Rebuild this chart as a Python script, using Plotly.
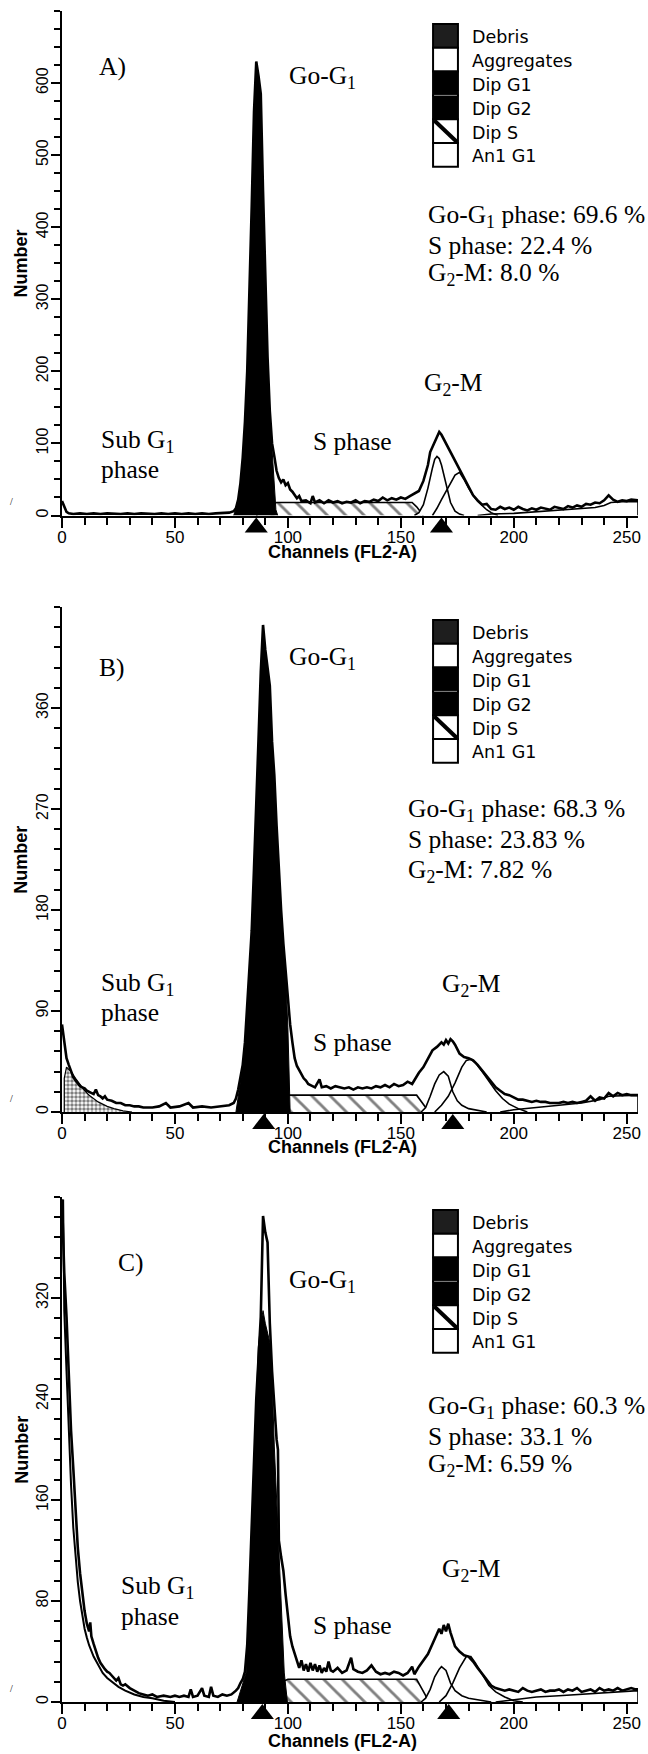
import plotly.graph_objects as go

# ---------------- data (channel, count) ----------------
X_TICKS = [0, 50, 100, 150, 200, 250]

A_yticks = [0, 100, 200, 300, 400, 500, 600]
B_yticks = [0, 90, 180, 270, 360]
C_yticks = [0, 80, 160, 240, 320]

A_total = [(0,20),(1,12),(2,5),(3,3),(5,2),(8,3),(11,2),(14,3),(17,2),(20,3),(23,2),(26,2),(29,3),(32,2),(35,3),(38,2),(41,2),(44,3),(47,2),(50,3),(53,2),(56,3),(59,2),(62,3),(65,2),(68,3),(71,3),(74,4),(76,6),(77,10),(78,22),(79,45),(80,80),(81,130),(82,200),(83,300),(84,430),(85,560),(86,630),(87,610),(88,585),(89,450),(90,320),(91,220),(92,145),(93,100),(94,82),(95,62),(96,52),(97,46),(98,50),(99,42),(100,45),(101,36),(102,33),(103,28),(104,24),(105,27),(106,20),(108,21),(110,17),(111,27),(112,18),(114,21),(116,17),(118,21),(120,18),(122,20),(124,17),(126,19),(128,18),(130,21),(132,17),(134,20),(136,19),(138,22),(140,20),(142,25),(144,21),(146,24),(148,22),(150,25),(152,23),(154,27),(156,30),(158,34),(160,48),(162,70),(163,88),(165,102),(167,116),(168,112),(170,100),(172,86),(174,74),(176,62),(178,50),(180,38),(182,28),(184,21),(186,15),(188,16),(190,9),(192,8),(194,12),(196,9),(198,11),(200,8),(202,12),(204,9),(206,7),(208,10),(210,8),(212,11),(214,9),(216,8),(218,12),(220,10),(222,9),(224,13),(226,11),(228,14),(230,12),(232,16),(234,15),(236,18),(238,17),(240,21),(242,28),(244,22),(246,19),(248,21),(250,20),(252,22),(254,21),(255,21)]
A_g1 = [(76,0),(78,18),(79,42),(80,78),(81,128),(82,198),(83,298),(84,428),(85,558),(86,628),(87,605),(88,580),(89,445),(90,318),(91,215),(92,140),(93,95),(94,45),(94.7,8),(95.5,0)]
A_s = [(86,0),(89,8),(92,15),(95,18),(155,18),(157,12),(159,4),(160,0)]
A_g2 = [(156,0),(158,4),(160,15),(162,38),(164,66),(165,78),(166,82),(167,79),(168,70),(170,42),(172,18),(174,6),(176,2),(178,0)]
A_an1 = [(164,0),(166,10),(168,22),(170,34),(172,46),(174,56),(176,60),(178,50),(180,38),(182,28),(184,20),(186,14),(188,8),(190,4),(193,0)]
A_agg = [(184,0),(190,2),(200,3),(210,5),(220,7),(230,9),(236,11),(240,14),(243,18),(248,19),(255,19),(255,0)]
A_peaks = [86, 168]

B_total = [(0,78),(1,62),(2,48),(3,42),(4,36),(5,31),(6,28),(7,25),(8,23),(9,22),(10,21),(11,19),(12,18),(13,17),(14,16),(15,20),(16,15),(17,14),(18,12),(19,14),(20,11),(22,10),(24,8),(26,8),(28,6),(30,6),(32,5),(34,5),(36,4),(40,4),(43,5),(46,8),(48,4),(52,5),(56,8),(58,4),(62,5),(66,4),(70,5),(74,6),(76,8),(77,12),(78,20),(79,30),(80,42),(81,62),(82,97),(83,128),(84,162),(85,217),(86,267),(87,332),(88,392),(89,434),(90,412),(91,398),(92,380),(93,330),(94,300),(95,255),(96,215),(97,180),(98,150),(99,125),(100,100),(101,78),(102,62),(103,48),(104,41),(105,37),(106,34),(107,30),(108,28),(109,25),(110,24),(112,22),(114,29),(115,22),(117,23),(119,21),(121,23),(123,22),(125,21),(127,22),(129,20),(131,22),(133,21),(135,22),(137,21),(139,23),(141,22),(143,24),(145,22),(147,25),(149,23),(151,24),(153,27),(155,25),(157,32),(158,35),(160,40),(162,48),(164,55),(166,58),(168,62),(169,60),(170,64),(171,61),(172,65),(173,63),(174,60),(176,52),(178,49),(180,48),(182,46),(184,42),(186,37),(188,31),(190,26),(192,22),(194,19),(196,16),(198,15),(200,13),(202,11),(204,11),(206,10),(208,9),(210,10),(212,9),(214,9),(216,8),(218,8),(220,8),(222,9),(224,8),(226,9),(228,8),(230,9),(232,10),(234,14),(236,10),(238,13),(240,12),(242,17),(244,14),(246,17),(248,15),(250,16),(252,15),(254,15),(255,15)]
B_g1 = [(77,0),(78,15),(79,28),(80,40),(81,60),(82,95),(83,125),(84,160),(85,215),(86,265),(87,330),(88,390),(89,430),(90,410),(91,396),(92,378),(93,328),(94,298),(95,252),(96,212),(97,178),(98,148),(99,122),(100,75),(100.6,25),(101,0)]
B_s = [(88,0),(92,8),(96,14),(100,15),(157,15),(159,10),(161,4),(162,0)]
B_g2 = [(159,0),(161,4),(163,14),(165,25),(167,33),(169,36),(171,32),(173,18),(175,10),(177,6),(180,3),(184,1.5),(188,0)]
B_an1 = [(165,0),(168,6),(171,14),(174,26),(177,40),(179,46),(181,47),(183,44),(186,36),(189,27),(192,19),(195,12),(198,7),(202,3),(206,0)]
B_agg = [(194,0),(200,2),(210,4),(220,6),(230,8),(238,11),(242,14),(255,15),(255,0)]
B_deb = [(1,0),(1,30),(2,40),(4,36),(6,30),(8,24),(10,19),(12,15),(14,12),(16,9),(18,7),(20,5),(23,3),(27,1),(31,0)]
B_peaks = [89.3, 173]

C_total = [(0,398),(1,340),(2,305),(3,255),(4,215),(5,185),(6,150),(7,122),(8,102),(9,86),(10,72),(11,62),(12,56),(12.5,63),(13,52),(14,46),(15,40),(16,35),(17,31),(18,28),(19,26),(20,24),(21,23),(22,21),(23,19),(24,17),(25,19),(26,14),(27,13),(28,14),(30,11),(32,9),(34,7),(36,6),(38,5),(40,6),(42,4),(45,5),(48,4),(50,5),(52,4),(54,5),(56,4),(57,10),(58,4),(60,5),(62,11),(63,5),(65,4),(66,12),(67,5),(69,4),(71,6),(73,5),(75,6),(77,9),(78,11),(79,15),(80,18),(81,24),(82,45),(83,90),(84,140),(85,192),(86,240),(87,272),(88,305),(89,385),(90,372),(91,364),(92,300),(93,262),(94,232),(95,208),(95.6,200),(96,128),(97,115),(98,104),(99,85),(100,66),(101,52),(102,44),(103,38),(104,32),(105,27),(106,33),(107,25),(108,30),(109,24),(110,31),(111,25),(112,30),(113,24),(114,29),(115,23),(116,27),(117,24),(118,32),(119,25),(120,24),(122,27),(124,23),(126,25),(128,35),(129,26),(131,24),(133,23),(135,25),(137,29),(139,24),(141,22),(143,23),(145,22),(147,24),(149,23),(151,21),(153,23),(155,28),(156,22),(158,28),(160,33),(162,38),(164,46),(165,50),(166,55),(167,58),(168,54),(169,61),(170,56),(171,62),(172,55),(173,50),(174,44),(176,40),(178,37),(180,36),(182,32),(184,27),(186,22),(188,17),(190,13),(192,11),(194,10),(196,9),(198,10),(200,9),(202,8),(204,11),(206,9),(208,8),(210,9),(212,10),(214,8),(216,9),(218,9),(220,10),(222,8),(224,10),(226,9),(228,11),(230,8),(232,9),(234,10),(236,8),(238,11),(240,9),(242,10),(244,9),(246,11),(248,9),(250,10),(252,11),(254,10),(255,10)]
C_g1 = [(77.5,0),(79,8),(80,15),(81.5,23),(82.5,60),(83.7,123),(84.5,165),(85.2,202),(86.9,281),(88,300),(89,310),(90,300),(91,292),(92.5,281),(94,202),(95,160),(95.8,123),(97,70),(98.4,23),(99.8,0)]
C_s = [(88,0),(92,8),(96,15),(100,18),(157,18),(159,12),(161,5),(162,0)]
C_g2 = [(159,0),(161,3),(163,10),(165,20),(167,26),(168,28),(170,25),(172,15),(174,9),(177,5),(180,3),(185,1.5),(190,0)]
C_an1 = [(167,0),(170,5),(173,15),(176,27),(179,36),(181,36),(183,31),(186,22),(189,13),(192,8),(196,4),(200,1),(204,0)]
C_agg = [(192,0),(200,2),(210,4),(220,5),(230,6),(240,7),(245,8),(255,9),(255,0)]
C_deb = [(0.5,398),(1,310),(2,262),(3,212),(4,172),(5,138),(6,113),(7,95),(8,80),(9,68),(10,58),(11,51),(12,45),(14,36),(16,29),(18,23),(20,19),(22,16),(25,12),(28,9),(32,6),(36,4),(40,3),(45,1),(50,0)]
C_peaks = [88.7, 171.2]

LEGEND_LABELS = ["Debris", "Aggregates", "Dip G1", "Dip G2", "Dip S", "An1 G1"]
A_stats = ["Go-G<sub>1</sub> phase: 69.6 %", "S phase: 22.4 %", "G<sub>2</sub>-M: 8.0 %"]
B_stats = ["Go-G<sub>1</sub> phase: 68.3 %", "S phase: 23.83 %", "G<sub>2</sub>-M: 7.82 %"]
C_stats = ["Go-G<sub>1</sub> phase: 60.3 %", "S phase: 33.1 %", "G<sub>2</sub>-M: 6.59 %"]

# ---------------- layout geometry (page pixels) ----------------
W, H = 648, 1754
ML, MR, MT, MB = 62, 7, 11, 24
PW, PH = W - ML - MR, H - MT - MB
BAND = 24  # pixel band under each x axis holding the peak markers


def px_x(x):
    return (x - ML) / PW


def px_y(y):
    return (H - MB - y) / PH


panels = [
    dict(tag="A)", top=11, zero=515.5, ymax=700, yticks=A_yticks, ydt=25, title_dy=36,
         total=A_total, g1=A_g1, s=A_s, g2=A_g2, an1=A_an1, agg=A_agg, deb=None, debline=None,
         peaks=A_peaks, stats=A_stats, statx=428, staty=[216, 245, 274],
         tagpos=(113, 66), gopos=(324, 77), g2mpos=(456, 384), subx=99, suby=(441, 469), sphase=(312, 441)),
    dict(tag="B)", top=607, zero=1112, ymax=450, yticks=B_yticks, ydt=18, title_dy=35,
         total=B_total, g1=B_g1, s=B_s, g2=B_g2, an1=B_an1, agg=B_agg, deb=B_deb, debline=None,
         peaks=B_peaks, stats=B_stats, statx=408, staty=[810, 840, 871],
         tagpos=(112, 667), gopos=(324, 658), g2mpos=(474, 985), subx=99, suby=(984, 1012), sphase=(312, 1042)),
    dict(tag="C)", top=1197, zero=1702, ymax=400, yticks=C_yticks, ydt=16, title_dy=39,
         total=C_total, g1=C_g1, s=C_s, g2=C_g2, an1=C_an1, agg=C_agg, deb=None, debline=C_deb,
         peaks=C_peaks, stats=C_stats, statx=428, staty=[1407, 1436, 1465],
         tagpos=(131, 1262), gopos=(324, 1281), g2mpos=(474, 1570), subx=119, suby=(1587, 1616), sphase=(312, 1625)),
]


def xs(pairs):
    return [p[0] for p in pairs]


def ys(pairs):
    return [p[1] for p in pairs]


fig = go.Figure()
annotations = []
shapes = []
SERIF = "Liberation Serif"
SANS = "Liberation Sans"
THIN = 1.6


def ann(text, x, y, size=25.5, family=SERIF, xanchor="center", yanchor="middle", angle=0, bold=False):
    annotations.append(dict(
        text=text, x=px_x(x), y=px_y(y), xref="paper", yref="paper", showarrow=False,
        xanchor=xanchor, yanchor=yanchor, textangle=angle,
        font=dict(family=family, size=size, color="black", weight="bold" if bold else "normal")))


layout_axes = {}
for i, p in enumerate(panels):
    n = "" if i == 0 else str(i + 1)
    xa, ya = "x" + n, "y" + n
    yb = "y" + str(i + 4)  # marker band axis
    # Aggregates (white, outlined)
    fig.add_trace(go.Scatter(x=xs(p["agg"]), y=ys(p["agg"]), xaxis=xa, yaxis=ya, mode="lines",
                             fill="tozeroy", fillcolor="white", line=dict(color="black", width=THIN)))
    # Debris (stippled)
    if p["deb"] is not None:
        fig.add_trace(go.Scatter(x=xs(p["deb"]), y=ys(p["deb"]), xaxis=xa, yaxis=ya, mode="lines",
                                 fill="tozeroy", line=dict(color="black", width=1.2),
                                 fillpattern=dict(shape=".", size=4, solidity=0.6, fgcolor="black", bgcolor="white")))
    # Dip S (hatched)
    fig.add_trace(go.Scatter(x=xs(p["s"]), y=ys(p["s"]), xaxis=xa, yaxis=ya, mode="lines",
                             fill="tozeroy", line=dict(color="black", width=THIN),
                             fillpattern=dict(shape="\\", size=13, solidity=0.22, fgcolor="black", bgcolor="white")))
    # Dip G2 (white, outlined)
    fig.add_trace(go.Scatter(x=xs(p["g2"]), y=ys(p["g2"]), xaxis=xa, yaxis=ya, mode="lines",
                             fill="tozeroy", fillcolor="white", line=dict(color="black", width=THIN)))
    # An1 G1
    fig.add_trace(go.Scatter(x=xs(p["an1"]), y=ys(p["an1"]), xaxis=xa, yaxis=ya, mode="lines",
                             line=dict(color="black", width=THIN)))
    # Dip G1 (black)
    fig.add_trace(go.Scatter(x=xs(p["g1"]), y=ys(p["g1"]), xaxis=xa, yaxis=ya, mode="lines",
                             fill="tozeroy", fillcolor="black", line=dict(color="black", width=1)))
    if p["debline"] is not None:
        fig.add_trace(go.Scatter(x=xs(p["debline"]), y=ys(p["debline"]), xaxis=xa, yaxis=ya, mode="lines",
                                 line=dict(color="black", width=2)))
    # measured histogram
    fig.add_trace(go.Scatter(x=xs(p["total"]), y=ys(p["total"]), xaxis=xa, yaxis=ya, mode="lines",
                             line=dict(color="black", width=2.6)))
    # peak markers in a band just below the axis (band units are pixels)
    fig.add_trace(go.Scatter(x=p["peaks"], y=[-12] * len(p["peaks"]), xaxis=xa, yaxis=yb, mode="markers",
                             marker=dict(symbol="triangle-up", size=20, color="black", line=dict(width=0)),
                             cliponaxis=False))

    layout_axes["xaxis" + n] = dict(
        domain=[0, 1], anchor=ya, range=[0, 255], tickmode="array", tickvals=X_TICKS,
        ticks="outside", ticklen=10, tickwidth=2, tickcolor="black", ticklabelstandoff=-5,
        showline=True, linecolor="black", linewidth=2, showgrid=False, zeroline=False,
        tickfont=dict(family=SANS, size=17, color="black"),
        minor=dict(ticks="outside", tick0=0, dtick=10, ticklen=7, tickwidth=2, tickcolor="black", showgrid=False))
    layout_axes["yaxis" + n] = dict(
        domain=[px_y(p["zero"]), px_y(p["top"])], anchor=xa, range=[0, p["ymax"]],
        tickmode="array", tickvals=p["yticks"], tickangle=-90,
        ticks="outside", ticklen=9, tickwidth=2, tickcolor="black", ticklabelstandoff=-3,
        showline=True, linecolor="black", linewidth=2, showgrid=False, zeroline=False,
        tickfont=dict(family=SANS, size=16, color="black"),
        minor=dict(ticks="outside", tick0=0, dtick=p["ydt"], ticklen=6, tickwidth=2, tickcolor="black", showgrid=False))
    layout_axes["yaxis" + str(i + 4)] = dict(
        domain=[px_y(p["zero"] + BAND), px_y(p["zero"])], anchor=xa, range=[-BAND, 0],
        visible=False, showgrid=False, zeroline=False, fixedrange=True)

    # axis titles
    ann("Number", 21, (p["top"] + p["zero"]) / 2, size=18, family=SANS, angle=-90, bold=True)
    ann("Channels (FL2-A)", 344, p["zero"] + p["title_dy"], size=18, family=SANS, bold=True)
    ann("/", 11, p["zero"] - 14, size=10, family=SERIF)

    # text labels
    ann(p["tag"], *p["tagpos"])
    ann("Go-G<sub>1</sub>", *p["gopos"])
    ann("G<sub>2</sub>-M", *p["g2mpos"])
    ann("Sub G<sub>1</sub>", p["subx"], p["suby"][0], xanchor="left")
    ann("phase", p["subx"], p["suby"][1], xanchor="left")
    ann("S phase", p["sphase"][0], p["sphase"][1], xanchor="left")
    for t, yy in zip(p["stats"], p["staty"]):
        ann(t, p["statx"], yy, xanchor="left")

    # legend column
    bx0, bx1 = 435, 460
    rh = 23.8
    fills = ["#1e1e1e", "white", "black", "black", "white", "white"]
    for k, lab in enumerate(LEGEND_LABELS):
        y0 = p["top"] + 13 + k * rh
        y1 = y0 + rh
        shapes.append(dict(type="rect", xref="paper", yref="paper", x0=px_x(bx0), x1=px_x(bx1),
                           y0=px_y(y1), y1=px_y(y0), fillcolor=fills[k],
                           line=dict(color="black", width=2), layer="above"))
        if lab == "Dip S":
            shapes.append(dict(type="line", xref="paper", yref="paper", x0=px_x(bx0 + 1), y0=px_y(y0 + 1),
                               x1=px_x(bx1 - 1), y1=px_y(y1 - 1), line=dict(color="black", width=4), layer="above"))
        if lab == "Dip G2":
            shapes.append(dict(type="line", xref="paper", yref="paper", x0=px_x(bx0 + 1), y0=px_y(y0),
                               x1=px_x(bx1 - 1), y1=px_y(y0), line=dict(color="#888", width=1), layer="above"))
        ann(lab, 472, y0 + rh / 2 + 1.5, size=17.5, family="DejaVu Sans", xanchor="left")

fig.update_layout(
    width=W, height=H, margin=dict(l=ML, r=MR, t=MT, b=MB),
    paper_bgcolor="white", plot_bgcolor="white", showlegend=False,
    annotations=annotations, shapes=shapes, **layout_axes)

fig.write_html("out.html")
